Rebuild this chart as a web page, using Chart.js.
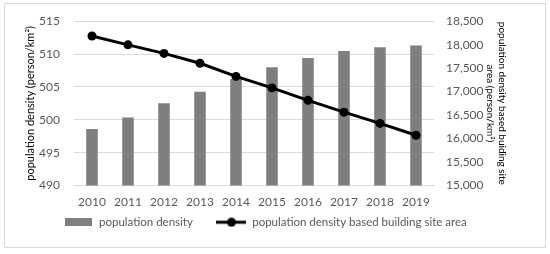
<!DOCTYPE html>
<html>
<head>
<meta charset="utf-8">
<script src="https://cdn.jsdelivr.net/npm/chart.js@4/dist/chart.umd.min.js"></script>
<style>
  html, body { margin: 0; padding: 0; background: #fff; }
  #wrap { width: 550px; height: 254px; position: relative; }
</style>
</head>
<body>
<div id="wrap"><canvas id="grafico" width="550" height="254"></canvas></div>
<script>
// anos e valores
var anos = ['2010', '2011', '2012', '2013', '2014', '2015', '2016', '2017', '2018', '2019'];
var densidade = [498.6, 500.35, 502.5, 504.25, 506.2, 508.0, 509.4, 510.45, 511.05, 511.3];
var densidadeTerreno = [18185, 17996, 17814, 17604, 17324, 17079, 16814, 16562, 16323, 16071];
var rotulos = ['population density', 'population density based building site area'];
var tituloEsq = 'population density (person/km²)';
var tituloDir = ['population density based buiding site', 'area (person/km²)'];

var cinzaTexto = '#595959';
var fonte = 'Lato, "Open Sans", sans-serif';

// icones da legenda
function iconeBarra() {
	var c = document.createElement('canvas');
	c.width = 27; c.height = 8;
	var g = c.getContext('2d');
	g.fillStyle = '#7f7f7f';
	g.fillRect(0, 0, 27, 8);
	return c;
}
function iconeLinha() {
	var c = document.createElement('canvas');
	c.width = 30; c.height = 10;
	var g = c.getContext('2d');
	g.strokeStyle = '#000'; g.lineWidth = 3;
	g.beginPath(); g.moveTo(0, 5); g.lineTo(30, 5); g.stroke();
	g.fillStyle = '#000';
	g.beginPath(); g.arc(15, 5, 4.5, 0, Math.PI * 2); g.fill();
	return c;
}

var moldura = {
	id: 'moldura',
	beforeDraw: function(chart) {
		var ctx = chart.ctx;
		ctx.save();
		ctx.fillStyle = '#fff';
		ctx.fillRect(0, 0, chart.width, chart.height);
		ctx.strokeStyle = '#d9d9d9';
		ctx.lineWidth = 1;
		ctx.strokeRect(4.5, 3.5, 541, 244);
		ctx.restore();
	}
};

var ctx = document.getElementById('grafico').getContext('2d');
var grafico = new Chart(ctx, {
	type: 'bar',
	data: {
		labels: anos,
		datasets: [{
			type: 'line',
			label: rotulos[1],
			data: densidadeTerreno,
			yAxisID: 'yDir',
			borderColor: '#000',
			backgroundColor: '#000',
			borderWidth: 3,
			pointRadius: 4.5,
			pointBackgroundColor: '#000',
			pointBorderWidth: 0,
			tension: 0,
			order: 0
		}, {
			label: rotulos[0],
			data: densidade,
			yAxisID: 'yEsq',
			backgroundColor: '#7f7f7f',
			barPercentage: 0.32,
			categoryPercentage: 1,
			order: 1
		}]
	},
	options: {
		responsive: false,
		animation: false,
		layout: { padding: { left: 22, right: 42, top: 12, bottom: 16 } },
		plugins: {
			tooltip: { enabled: false },
			legend: {
				position: 'bottom',
				labels: {
					color: cinzaTexto,
					font: { family: fonte, size: 11.5 },
					usePointStyle: true,
					pointStyleWidth: 30,
					boxHeight: 10,
					padding: 3,
					generateLabels: function(chart) {
						// espacos no fim do primeiro rotulo para afastar o segundo item
						return [
							{ text: rotulos[0] + '       ', pointStyle: iconeBarra(), datasetIndex: 1, fontColor: cinzaTexto, lineWidth: 0, hidden: false },
							{ text: rotulos[1], pointStyle: iconeLinha(), datasetIndex: 0, fontColor: cinzaTexto, lineWidth: 0, hidden: false }
						];
					}
				}
			}
		},
		scales: {
			x: {
				grid: { display: false, drawTicks: false },
				border: { color: '#d9d9d9' },
				ticks: { color: cinzaTexto, font: { family: fonte, size: 12 }, padding: 9 },
				afterFit: function(escala) { escala.height = 28; }
			},
			yEsq: {
				position: 'left',
				min: 490, max: 515,
				ticks: { stepSize: 5, color: cinzaTexto, font: { family: fonte, size: 12 }, padding: 14 },
				grid: { color: '#d9d9d9', drawTicks: false },
				border: { display: false },
				title: { display: true, text: tituloEsq, color: '#000', font: { family: fonte, size: 11 }, padding: 2 },
				afterFit: function(escala) { escala.width = 52; }
			},
			yDir: {
				position: 'right',
				min: 15000, max: 18500,
				ticks: { stepSize: 500, color: cinzaTexto, font: { family: fonte, size: 12 }, padding: 12 },
				grid: { display: false, drawTicks: false },
				border: { display: false },
				title: { display: true, text: tituloDir, color: '#000', font: { family: fonte, size: 10, lineHeight: 1.2 }, padding: 0 },
				afterFit: function(escala) { escala.width = 74; }
			}
		}
	},
	plugins: [moldura]
});
</script>
</body>
</html>
